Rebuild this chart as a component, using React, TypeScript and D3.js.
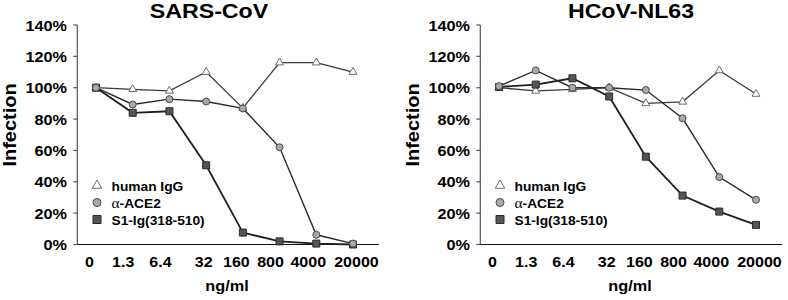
import React from "react";
import * as d3 from "d3";

const categories = ["0", "1.3", "6.4", "32", "160", "800", "4000", "20000"];
const yTicks = [0, 20, 40, 60, 80, 100, 120, 140];
const seriesNames = ["human IgG", "S1-Ig(318-510)", "α-ACE2"];

const sarsIgG = [100, 99, 98, 110, 87, 116, 116, 110];
const sarsS1 = [100, 84, 85, 50.5, 7.6, 2, 0.6, 0];
const sarsAce2 = [100, 89.3, 92.7, 91.2, 86.8, 62, 6.2, 0.6];

const nlIgG = [100, 98, 99, 100, 90, 91, 111, 96];
const nlS1 = [100.5, 102, 106, 94.4, 56, 31.2, 21, 12.5];
const nlAce2 = [101, 111, 100, 100, 98.5, 80.5, 43, 28.5];

const panelTitles = ["SARS-CoV", "HCoV-NL63"];
const xTitle = "ng/ml";
const yTitle = "Infection";

// layout: horizontal nudges of the x tick labels relative to their category point
const labelNudge = [-6.5, -9.5, -9, -2.5, -6.5, -9, -8, 3.5];

const FONT = "'Liberation Sans', Arial, Helvetica, sans-serif";

type Style = { kind: string; fill: string; stroke: string; line: string; lw: number };
const styles: Style[] = [
  { kind: "triangle", fill: "#ffffff", stroke: "#6a6a6a", line: "#3a3a3a", lw: 1.3 },
  { kind: "square", fill: "#555555", stroke: "#2a2a2a", line: "#1e1e1e", lw: 1.8 },
  { kind: "circle", fill: "#a9a9a9", stroke: "#4a4a4a", line: "#2a2a2a", lw: 1.4 },
];

function Marker({ kind, x, y, s, fill, stroke }: any) {
  if (kind === "circle") return <circle cx={x} cy={y} r={s / 2} fill={fill} stroke={stroke} strokeWidth={1} />;
  if (kind === "square")
    return <path d={d3.symbol().type(d3.symbolSquare).size(s * s)()!} transform={`translate(${x},${y})`} fill={fill} stroke={stroke} strokeWidth={1} />;
  return (
    <path
      d={d3.symbol().type(d3.symbolTriangle).size((s * s * Math.sqrt(3)) / 4)()!}
      transform={`translate(${x},${y})`}
      fill={fill}
      stroke={stroke}
      strokeWidth={1}
    />
  );
}

function Panel({ dx, title, titleX, series }: { dx: number; title: string; titleX: number; series: number[][] }) {
  const axisX = 77.3;
  const x = d3.scalePoint<string>().domain(categories).range([96, 353]);
  const y = d3.scaleLinear().domain([0, 140]).range([244.5, 25]);
  const line = d3
    .line<number>()
    .x((_, i) => x(categories[i])!)
    .y((d) => y(d));
  const legendSizes = [9.5, 8, 8];
  const legendRows = [185.5, 202.5, 219.5];
  const legendOrder = [0, 2, 1];
  return (
    <g transform={`translate(${dx},0)`} fontFamily={FONT} fontWeight="bold" fill="#000">
      <text transform={`translate(${titleX},18.3) scale(1.16,1)`} textAnchor="middle" fontSize={20}>
        {title}
      </text>
      <text transform={`translate(16,125) rotate(-90) scale(1.11,1)`} textAnchor="middle" fontSize={18}>
        {yTitle}
      </text>
      <line x1={axisX} x2={axisX} y1={y(140)} y2={y(0)} stroke="#555" strokeWidth={1.2} />
      {yTicks.map((t) => (
        <g key={t}>
          <line x1={axisX - 4} x2={axisX} y1={y(t)} y2={y(t)} stroke="#555" strokeWidth={1.2} />
          <text transform={`translate(67,${y(t) + 5.5}) scale(1.16,1)`} textAnchor="end" fontSize={14}>
            {t + "%"}
          </text>
        </g>
      ))}
      <line x1={axisX} x2={379} y1={y(0)} y2={y(0)} stroke="#111" strokeWidth={1.2} />
      {categories.map((c, i) => (
        <text
          key={c}
          transform={`translate(${x(c)! + labelNudge[i]},266.5) scale(1.07,1)`}
          textAnchor="middle"
          fontSize={15}
        >
          {c}
        </text>
      ))}
      <text transform={`translate(227,291) scale(1.05,1)`} textAnchor="middle" fontSize={15.5}>
        {xTitle}
      </text>
      {series.map((vals, si) => (
        <g key={si}>
          <path d={line(vals)!} fill="none" stroke={styles[si].line} strokeWidth={styles[si].lw} />
          {vals.map((v, i) => (
            <Marker
              key={i}
              kind={styles[si].kind}
              x={x(categories[i])}
              y={y(v)}
              s={si === 0 ? 8 : 7}
              fill={styles[si].fill}
              stroke={styles[si].stroke}
            />
          ))}
        </g>
      ))}
      {legendOrder.map((si, r) => (
        <g key={si}>
          <Marker
            kind={styles[si].kind}
            x={97}
            y={legendRows[r]}
            s={legendSizes[r]}
            fill={styles[si].fill}
            stroke={styles[si].stroke}
          />
          <text transform={`translate(111.5,${legendRows[r] + 5}) scale(1.1,1)`} fontSize={12.5}>
            {seriesNames[si].startsWith("α") ? (
              <>
                <tspan fontWeight="normal" fontFamily="'Liberation Serif', serif" fontSize={14}>α</tspan>
                {seriesNames[si].slice(1)}
              </>
            ) : (
              seriesNames[si]
            )}
          </text>
        </g>
      ))}
    </g>
  );
}

export default function App() {
  return (
    <svg
      width={788}
      height={300}
      style={{ position: "absolute", left: 0, top: 0, background: "#fff" }}
      viewBox="0 0 788 300"
    >
      <rect width={788} height={300} fill="#fff" />
      <Panel dx={0} title={panelTitles[0]} titleX={209} series={[sarsIgG, sarsS1, sarsAce2]} />
      <Panel dx={403} title={panelTitles[1]} titleX={228} series={[nlIgG, nlS1, nlAce2]} />
    </svg>
  );
}
